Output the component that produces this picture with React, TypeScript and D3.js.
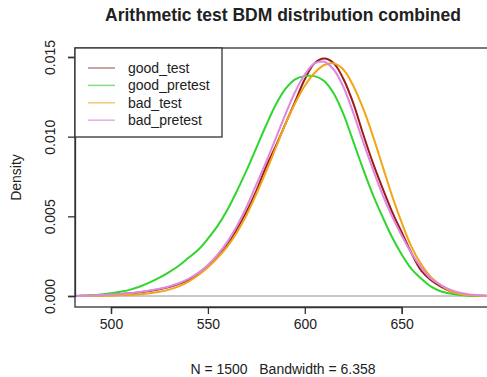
import React, { useEffect, useRef } from "react";
import * as d3 from "d3";

const xValues = [480, 485, 490, 495, 500, 505, 510, 515, 520, 525, 530, 535, 540, 545, 550, 555, 560, 565, 570, 575, 580, 585, 590, 595, 600, 605, 610, 615, 620, 625, 630, 635, 640, 645, 650, 655, 660, 665, 670, 675, 680, 685, 690, 695];

const goodTest = [0, 0.00001, 0.00003, 0.00005, 0.00008, 0.00012, 0.00017, 0.00024, 0.00032, 0.00042, 0.00056, 0.00076, 0.00102, 0.00138, 0.00185, 0.00245, 0.0032, 0.0042, 0.0053, 0.0066, 0.0081, 0.0094, 0.0108, 0.0122, 0.0136, 0.0146, 0.0149, 0.0146, 0.0136, 0.0121, 0.0102, 0.0084, 0.0068, 0.0053, 0.004, 0.0027, 0.0016, 0.001, 0.0006, 0.0003, 0.00013, 0.00005, 0.00002, 0];

const goodPretest = [0, 0.00002, 0.00005, 0.0001, 0.00017, 0.00027, 0.0004, 0.0006, 0.00085, 0.00115, 0.0015, 0.0019, 0.0024, 0.0029, 0.0036, 0.0044, 0.0054, 0.0066, 0.0079, 0.0093, 0.0107, 0.012, 0.013, 0.0136, 0.0138, 0.0138, 0.0135, 0.0127, 0.0114, 0.0097, 0.008, 0.0064, 0.005, 0.0037, 0.0026, 0.0017, 0.0011, 0.0006, 0.0003, 0.00015, 0.00006, 0.00002, 0, 0];

const badTest = [0, 0, 0, 0.00001, 0.00002, 0.00004, 0.00007, 0.00011, 0.00017, 0.00026, 0.0004, 0.0006, 0.0009, 0.0013, 0.0018, 0.0024, 0.0031, 0.004, 0.0051, 0.0064, 0.0078, 0.0093, 0.0108, 0.0121, 0.0132, 0.014, 0.0145, 0.0146, 0.0142, 0.0132, 0.0118, 0.0101, 0.0082, 0.0063, 0.0046, 0.0031, 0.002, 0.0012, 0.0007, 0.0003, 0.00013, 0.00005, 0.00001, 0];

const badPretest = [0, 0.00001, 0.00003, 0.00006, 0.00009, 0.00013, 0.00018, 0.00025, 0.00034, 0.00045, 0.0006, 0.0008, 0.00108, 0.00145, 0.00195, 0.0026, 0.0034, 0.0044, 0.0056, 0.007, 0.0084, 0.0099, 0.0114, 0.0128, 0.0139, 0.0146, 0.0147, 0.0142, 0.0131, 0.0115, 0.0097, 0.008, 0.0064, 0.005, 0.0038, 0.0027, 0.0018, 0.0011, 0.0007, 0.0004, 0.0002, 0.0001, 0.00005, 0.00002];

const seriesNames = ["good_test", "good_pretest", "bad_test", "bad_pretest"];
const seriesColors = ["#9b1b1b", "#2ed62e", "#f2a516", "#dd88dd"];
const legendColors = ["#c08080", "#80e080", "#f0c878", "#e0b0e0"];

const xTicks = [500, 550, 600, 650];
const yTicks = [0, 0.005, 0.01, 0.015];
const yTickLabels = ["0.000", "0.005", "0.010", "0.015"];

const titleText = "Arithmetic test BDM distribution combined";
const subtitleText = "N = 1500   Bandwidth = 6.358";
const yLabelText = "Density";

const W = 487;
const H = 377;
const FONT = "'Liberation Sans', Arial, sans-serif";

export default function App() {
  const ref = useRef<SVGSVGElement | null>(null);

  useEffect(() => {
    const svg = d3.select(ref.current);
    svg.selectAll("*").remove();

    const left = 75, right = 491, top = 48, bottom = 307;
    const x = d3.scaleLinear().domain([500, 650]).range([111, 401.7]);
    const y = d3.scaleLinear().domain([0, 0.015]).range([296, 57]);

    svg.append("rect").attr("width", W).attr("height", H).attr("fill", "#fff");

    // zero line
    svg.append("line")
      .attr("x1", left).attr("x2", right)
      .attr("y1", y(0)).attr("y2", y(0))
      .attr("stroke", "#c8c8c8").attr("stroke-width", 2);

    const clip = svg.append("clipPath").attr("id", "plotclip");
    clip.append("rect").attr("x", left).attr("y", top).attr("width", right - left).attr("height", bottom - top);

    const allSeries = [goodTest, goodPretest, badTest, badPretest];
    const line = d3.line<number>()
      .x((_, i) => x(xValues[i]))
      .y((d) => y(d))
      .curve(d3.curveCatmullRom.alpha(0.5));

    const g = svg.append("g").attr("clip-path", "url(#plotclip)");
    allSeries.forEach((s, i) => {
      g.append("path")
        .attr("d", line(s) as string)
        .attr("fill", "none")
        .attr("stroke", seriesColors[i])
        .attr("stroke-width", 2)
        .attr("stroke-linejoin", "round");
    });

    // box
    svg.append("rect")
      .attr("x", left).attr("y", top)
      .attr("width", right - left).attr("height", bottom - top)
      .attr("fill", "none").attr("stroke", "#333").attr("stroke-width", 1.3);

    // x axis
    const xAxis = d3.axisBottom(x).tickValues(xTicks).tickSize(7).tickPadding(5).tickFormat(d3.format("d"));
    const xg = svg.append("g").attr("transform", `translate(0,${bottom})`).call(xAxis);
    xg.select(".domain").attr("stroke", "#333").attr("stroke-width", 1.3);
    xg.selectAll(".tick line").attr("stroke", "#333").attr("stroke-width", 1.3);
    xg.selectAll(".tick text").attr("font-family", FONT).attr("font-size", 14).attr("fill", "#222");

    // y axis
    const yAxis = d3.axisLeft(y).tickValues(yTicks).tickSize(7).tickFormat((_, i) => yTickLabels[i]);
    const yg = svg.append("g").attr("transform", `translate(${left},0)`).call(yAxis);
    yg.select(".domain").attr("stroke", "#333").attr("stroke-width", 1.3);
    yg.selectAll(".tick line").attr("stroke", "#333").attr("stroke-width", 1.3);
    yg.selectAll(".tick text")
      .attr("font-family", FONT).attr("font-size", 14).attr("fill", "#222")
      .attr("x", null).attr("dy", null)
      .attr("text-anchor", "middle")
      .attr("transform", "translate(-20,0) rotate(-90)");

    // title
    svg.append("text")
      .attr("x", (left + right) / 2).attr("y", 21)
      .attr("text-anchor", "middle")
      .attr("font-family", FONT).attr("font-weight", "bold").attr("font-size", 17.5)
      .attr("fill", "#222").text(titleText);

    // subtitle
    svg.append("text")
      .attr("x", (left + right) / 2).attr("y", 374)
      .attr("text-anchor", "middle")
      .attr("font-family", FONT).attr("font-size", 14)
      .style("white-space", "pre")
      .attr("fill", "#222").text(subtitleText);

    // y label
    svg.append("text")
      .attr("transform", `translate(21,${(top + bottom) / 2}) rotate(-90)`)
      .attr("text-anchor", "middle")
      .attr("font-family", FONT).attr("font-size", 14)
      .attr("fill", "#222").text(yLabelText);

    // legend
    const lg = svg.append("g");
    lg.append("rect")
      .attr("x", left).attr("y", top).attr("width", 147).attr("height", 89)
      .attr("fill", "#fff").attr("stroke", "#333").attr("stroke-width", 1.3);
    seriesNames.forEach((name, i) => {
      const cy = 68 + i * 17.4;
      lg.append("line")
        .attr("x1", 88).attr("x2", 115).attr("y1", cy).attr("y2", cy)
        .attr("stroke", legendColors[i]).attr("stroke-width", 1.5);
      lg.append("text")
        .attr("x", 128).attr("y", cy + 5)
        .attr("font-family", FONT).attr("font-size", 14)
        .attr("fill", "#222").text(name);
    });
  }, []);

  return (
    <svg ref={ref} width={W} height={H} style={{ position: "absolute", left: 0, top: 0 }} />
  );
}
